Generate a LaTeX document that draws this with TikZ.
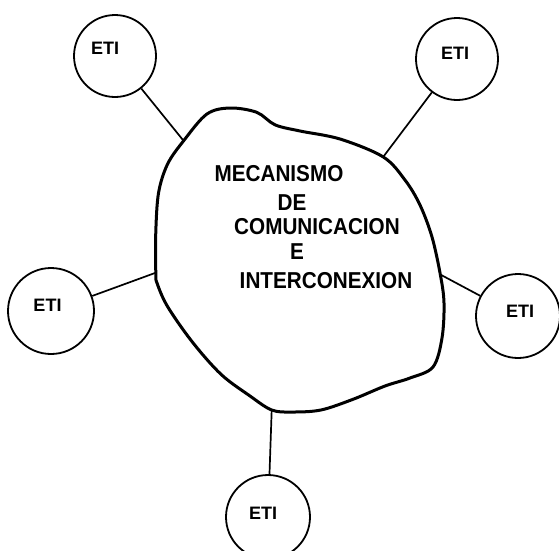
\documentclass[tikz,border=0pt]{standalone}
\usepackage{fontspec}
\setmainfont{Liberation Sans}
\newcommand{\narrowtxt}[1]{\scalebox{0.9}[1]{#1}}
\begin{document}
\begin{tikzpicture}[x=1pt,y=-1pt,
  eti/.style={draw,circle,line width=1.8pt,inner sep=0pt,minimum size=#1},
  etitext/.style={font=\fontsize{18}{20}\selectfont\bfseries,inner sep=0pt,text depth=0pt},
  bigtext/.style={font=\fontsize{23}{25}\selectfont\bfseries,inner sep=0pt,text depth=0pt},
  link/.style={line width=1.7pt},
  blob/.style={line width=3pt,line join=round}]
\useasboundingbox (0,0) rectangle (559,550);

% central blob
\draw[blob] plot[smooth cycle,tension=0.55] coordinates{
 (183.6,140.8) (206.8,114.1) (230,108) (256.7,112.3) (275,124.8) (300,131)
 (340,139) (383.2,156.9) (405,180) (420,205) (432,237) (440.3,274.5)
 (444,303) (442,338) (433,367) (410,378) (385,386) (353,399.3)
 (320.9,410) (292,412) (271.7,410) (249.6,395.7) (221,374.3) (192.5,342.2)
 (167.6,306.6) (157,283) (155.8,272.7) (155.8,231.7) (158.6,192.5) (167.6,164)};

\coordinate (b1) at (183.6,140.8);
\coordinate (b2) at (383.2,156.9);
\coordinate (b3) at (155.8,272.7);
\coordinate (b4) at (440.3,274.5);
\coordinate (b5) at (271.7,410);

% terminals
\node[eti=82pt] (e1) at (115,56) {};
\node[eti=82pt] (e2) at (457,59) {};
\node[eti=86pt] (e3) at (51,311) {};
\node[eti=84pt] (e4) at (518,316) {};
\node[eti=84pt] (e5) at (268,517) {};

\node[etitext] (t1) at (105,48) {ETI};
\node[etitext] (t2) at (455,53) {ETI};
\node[etitext] (t3) at (47.5,305) {ETI};
\node[etitext] (t4) at (520,311) {ETI};
\node[etitext] (t5) at (263,513) {ETI};

% links
\draw[link] (e1) -- (b1);
\draw[link] (e2) -- (b2);
\draw[link] (e3) -- (b3);
\draw[link] (e4) -- (b4);
\draw[link] (e5) -- (b5);

% text
\node[bigtext] (l1) at (279,173) {\narrowtxt{MECANISMO}};
\node[bigtext] (l2) at (292,203) {\narrowtxt{DE}};
\node[bigtext] (l3) at (317,226) {\narrowtxt{COMUNICACION}};
\node[bigtext] (l4) at (297,252) {\narrowtxt{E}};
\node[bigtext] (l5) at (326,280) {\narrowtxt{INTERCONEXION}};
\end{tikzpicture}
\end{document}
